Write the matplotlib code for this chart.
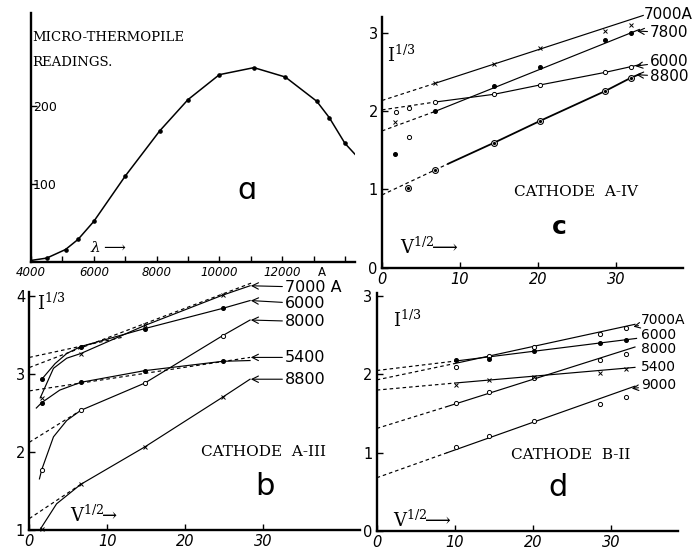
import matplotlib.pyplot as plt

W, H = 698, 550

# panel a : thermopile readings against wavelength
a_wave = [4500, 5100, 5500, 6000, 7000, 8100, 9000, 10000, 11100, 12100, 13100, 13500, 14000]
a_read = [5, 16, 29, 52, 110, 168, 208, 240, 249, 237, 206, 185, 152]
a_start = (4000, 2)
a_end = (14320, 138)

# panel b : cathode A-III  (I^1/3 against V^1/2)
b_v = [1.6, 6.6, 14.8, 24.8]
b_7000 = [2.69, 3.26, 3.62, 4.01]
b_6000 = [2.93, 3.35, 3.58, 3.84]
b_8000 = [1.77, 2.53, 2.88, 3.49]
b_5400 = [2.63, 2.89, 3.04, 3.16]
b_8800 = [1.01, 1.58, 2.06, 2.70]
# curves as drawn in the figure
b_7000_curve = [(1.4, 2.69), (3.1, 3.07), (4.8, 3.20), (6.6, 3.26), (14.8, 3.62), (24.8, 4.01), (28.3, 4.13)]
b_6000_curve = [(1.6, 2.93), (3.3, 3.13), (4.8, 3.26), (6.6, 3.35), (14.8, 3.58), (24.8, 3.84), (28.3, 3.94)]
b_8000_curve = [(1.3, 1.65), (1.6, 1.77), (3.1, 2.19), (4.8, 2.40), (6.6, 2.53), (14.8, 2.88), (24.8, 3.49), (28.3, 3.69)]
b_5400_curve = [(0.9, 2.56), (1.6, 2.63), (3.9, 2.79), (6.6, 2.89), (14.8, 3.04), (24.8, 3.16), (28.3, 3.17)]
b_8800_curve = [(1.45, 1.01), (3.5, 1.33), (6.6, 1.58), (14.8, 2.06), (24.8, 2.70), (28.3, 2.93)]
b_dashes = [[(0, 3.08), (28.6, 4.17)], [(0, 3.21), (12, 3.47)], [(0, 2.78), (28.3, 3.21)],
            [(0, 2.12), (6.6, 2.53)], [(0, 1.14), (6.6, 1.58)]]
b_labels = ["7000 A", "6000", "8000", "5400", "8800"]
b_label_y = [4.11, 3.90, 3.67, 3.21, 2.93]
b_tip_y = [4.13, 3.94, 3.69, 3.21, 2.93]

# panel c : cathode A-IV
c_v = [6.8, 14.4, 20.3, 28.6, 31.9]
c_7000 = [2.36, 2.61, 2.81, 3.03, 3.11]
c_7800 = [2.00, 2.33, 2.57, 2.91, 3.01]
c_6000 = [2.12, 2.22, 2.34, 2.50, 2.57]
c_8800 = [1.25, 1.60, 1.88, 2.26, 2.43]
c_low_v = [1.7, 3.5]
c_7000_low = [1.86]
c_7800_low = [1.46]
c_6000_low = [1.99, 2.05]
c_6000_odd = (3.5, 1.67)
c_8800_low = (3.3, 1.02)
c_7000_line = [(0, 2.14), (6.8, 2.36), (33.5, 3.23)]
c_7800_line = [(0, 1.75), (6.8, 2.00), (33.0, 3.05)]
c_6000_line = [(0, 2.02), (6.8, 2.12), (14.4, 2.22), (20.3, 2.34), (28.6, 2.50), (33.1, 2.60)]
c_8800_line = [(0, 0.93), (8.5, 1.33), (14.4, 1.60), (20.3, 1.88), (28.6, 2.26), (31.9, 2.43), (33.1, 2.48)]

# panel d : cathode B-II
d_v = [10.1, 14.4, 20.1, 28.5, 31.9]
d_7000 = [2.09, 2.23, 2.35, 2.52, 2.59]
d_6000 = [2.18, 2.20, 2.30, 2.40, 2.44]
d_8000 = [1.64, 1.78, 1.95, 2.19, 2.26]
d_5400 = [1.87, 1.93, 1.97, 2.02, 2.07]
d_9000 = [1.07, 1.21, 1.40, 1.62, 1.71]
d_7000_line = [(0, 1.93), (10, 2.14), (33.0, 2.64)]
d_6000_line = [(0, 2.05), (10, 2.17), (33.2, 2.46)]
d_8000_line = [(0, 1.31), (9, 1.59), (33.0, 2.35)]
d_5400_line = [(0, 1.80), (10, 1.89), (33.0, 2.09)]
d_9000_line = [(0, 0.68), (9, 1.00), (33.0, 1.85)]

plt.rcParams['font.family'] = ['DejaVu Sans']
plt.rcParams['mathtext.fontset'] = 'dejavuserif'

fig = plt.figure(figsize=(W / 100, H / 100), dpi=100)
fig.patch.set_facecolor('white')

DASH = (0, (3, 2.5))
SERIF = 'DejaVu Serif'


def px_axes(l, t, r, b):
    return fig.add_axes([l / W, 1 - b / H, (r - l) / W, (b - t) / H])


def style(ax, size=10.5):
    for s in ['top', 'right']:
        ax.spines[s].set_visible(False)
    for s in ['left', 'bottom']:
        ax.spines[s].set_linewidth(1.7)
    ax.tick_params(direction='in', length=4, width=1, labelsize=size, pad=3)
    ax.set_facecolor('none')


def seg(ax, pts, dashed=False, lw=0.85):
    xs = [p[0] for p in pts]
    ys = [p[1] for p in pts]
    ax.plot(xs, ys, color='black', lw=lw, ls=DASH if dashed else '-', clip_on=False)


def marks(ax, x, y, kind):
    if kind == 'x':
        ax.plot(x, y, ls='none', marker='x', ms=3, mew=0.7, color='black', clip_on=False)
    elif kind == 'dot':
        ax.plot(x, y, ls='none', marker='o', ms=2.6, color='black', clip_on=False)
    elif kind == 'open':
        ax.plot(x, y, ls='none', marker='o', ms=3, mfc='white', mec='black', mew=0.7, clip_on=False)
    else:
        ax.plot(x, y, ls='none', marker='o', ms=4.2, mfc='white', mec='black', mew=0.8, clip_on=False)
        ax.plot(x, y, ls='none', marker='o', ms=1.3, color='black', clip_on=False)


def arrow_label(ax, text, tip, pos, size):
    ax.annotate(text, xy=tip, xytext=pos, fontsize=size, va='center', ha='left',
                arrowprops=dict(arrowstyle='->', lw=0.8, color='black', shrinkA=0, shrinkB=0),
                annotation_clip=False)


# ---------------- panel a
ax = px_axes(31, 13, 355, 262)
style(ax, 8.5)
ax.set_xlim(4000, 14320)
ax.set_ylim(0, 319)
ax.set_xticks(range(4000, 14001, 1000))
ax.set_xticklabels([str(v) if v % 2000 == 0 and v <= 12000 else '' for v in range(4000, 14001, 1000)],
                   style='italic')
ax.set_yticks([100, 200])
ax.set_yticklabels(['100', '200'], fontsize=9)
for lab in ax.get_yticklabels():
    lab.set_horizontalalignment('left')
ax.tick_params(axis='y', pad=-1.5)
ax.plot([a_start[0]] + a_wave + [a_end[0]], [a_start[1]] + a_read + [a_end[1]], color='black', lw=1.1)
ax.plot(a_wave, a_read, ls='none', marker='o', ms=2.3, color='black')
ax.text(4030, 288, 'MICRO-THERMOPILE', family=SERIF, fontsize=9.5, va='center', ha='left')
ax.text(4030, 256, 'READINGS.', family=SERIF, fontsize=9.5, va='center', ha='left')
ax.text(10880, 92, 'ɑ', fontsize=22, ha='center', va='center')
ax.text(5880, 18, r'$\lambda\longrightarrow$', fontsize=11, ha='left', va='center')
ax.text(13270, -13, 'A', fontsize=8.5, ha='center', va='center', clip_on=False)

# ---------------- panel b
ax = px_axes(29.3, 292, 360, 529.5)
style(ax)
ax.set_xlim(0, 42.4)
ax.set_ylim(1, 4.05)
ax.set_xticks([0, 10, 20, 30])
ax.set_xticklabels(['0', '10', '20', '30'], style='italic')
ax.set_yticks([1, 2, 3, 4])
for cv in [b_7000_curve, b_6000_curve, b_8000_curve, b_5400_curve, b_8800_curve]:
    seg(ax, cv)
for d in b_dashes:
    seg(ax, d, dashed=True)
marks(ax, b_v, b_7000, 'x')
marks(ax, b_v, b_6000, 'dot')
marks(ax, b_v, b_8000, 'open')
marks(ax, b_v, b_5400, 'dot')
marks(ax, b_v, b_8800, 'x')
for lab, yl, yt in zip(b_labels, b_label_y, b_tip_y):
    arrow_label(ax, lab, (28.4, yt), (32.8, yl), 11.5)
ax.text(1.0, 3.91, r'$\mathrm{I}^{1/3}$', fontsize=13, va='center', ha='left')
ax.text(30.0, 2.0, 'CATHODE  A-III', family=SERIF, fontsize=11, ha='center', va='center')
ax.text(30.2, 1.55, 'b', fontsize=22, ha='center', va='center')
ax.text(5.2, 1.19, r'$\mathrm{V}^{1/2}\!\!\rightarrow$', fontsize=13, ha='left', va='center')

# ---------------- panel c
ax = px_axes(382, 17, 683, 267.5)
style(ax)
ax.set_xlim(0, 38.6)
ax.set_ylim(0, 3.21)
ax.set_xticks([0, 10, 20, 30])
ax.set_xticklabels(['0', '10', '20', '30'], style='italic')
ax.set_yticks([0, 1, 2, 3])
for line in [c_7000_line, c_7800_line, c_6000_line]:
    seg(ax, line[:2], dashed=True)
    seg(ax, line[1:])
seg(ax, c_8800_line[:2], dashed=True)
seg(ax, c_8800_line[1:], lw=1.3)
marks(ax, c_v, c_7000, 'x')
marks(ax, c_v, c_7800, 'dot')
marks(ax, c_v, c_6000, 'open')
marks(ax, c_v, c_8800, 'odot')
marks(ax, c_low_v[:1], c_7000_low, 'x')
marks(ax, c_low_v[:1], c_7800_low, 'dot')
marks(ax, [1.8, 3.5], c_6000_low, 'open')
marks(ax, [c_6000_odd[0]], [c_6000_odd[1]], 'open')
marks(ax, [c_8800_low[0]], [c_8800_low[1]], 'odot')
ax.text(33.6, 3.24, '7000A', fontsize=11, ha='left', va='center', clip_on=False)
c_arrows = [('7800', 3.01, (32.7, 3.03)), ('6000', 2.64, (32.5, 2.58)), ('8800', 2.45, (32.6, 2.47))]
for lab, yl, tip in c_arrows:
    arrow_label(ax, lab, tip, (34.4, yl), 11)
ax.text(0.64, 2.72, r'$\mathrm{I}^{1/3}$', fontsize=13, va='center', ha='left')
ax.text(24.9, 0.97, 'CATHODE  A-IV', family=SERIF, fontsize=11, ha='center', va='center')
ax.text(22.7, 0.52, 'c', fontsize=18, ha='center', va='center', fontweight='bold')
ax.text(2.3, 0.26, r'$\mathrm{V}^{1/2}\!\!\longrightarrow$', fontsize=13, ha='left', va='center')

# ---------------- panel d
ax = px_axes(376.7, 293, 678, 531)
style(ax)
ax.set_xlim(0, 38.5)
ax.set_ylim(0, 3.04)
ax.set_xticks([0, 10, 20, 30])
ax.set_xticklabels(['0', '10', '20', '30'], style='italic')
ax.set_yticks([0, 1, 2, 3])
for line in [d_7000_line, d_6000_line, d_8000_line, d_5400_line, d_9000_line]:
    seg(ax, line[:2], dashed=True)
    seg(ax, line[1:])
marks(ax, d_v, d_7000, 'open')
marks(ax, d_v, d_6000, 'dot')
marks(ax, d_v, d_8000, 'open')
marks(ax, d_v, d_5400, 'x')
marks(ax, d_v, d_9000, 'open')
arrow_label(ax, '7000A', (32.8, 2.61), (33.8, 2.69), 10)
ax.text(33.8, 2.50, '6000', fontsize=10, va='center', ha='left', clip_on=False)
ax.text(33.8, 2.32, '8000', fontsize=10, va='center', ha='left', clip_on=False)
ax.text(33.8, 2.10, '5400', fontsize=10, va='center', ha='left', clip_on=False)
arrow_label(ax, '9000', (32.6, 1.82), (33.8, 1.86), 10)
ax.text(2.1, 2.69, r'$\mathrm{I}^{1/3}$', fontsize=13, va='center', ha='left')
ax.text(24.8, 0.97, 'CATHODE  B-II', family=SERIF, fontsize=11, ha='center', va='center')
ax.text(23.2, 0.55, 'd', fontsize=22, ha='center', va='center')
ax.text(2.1, 0.14, r'$\mathrm{V}^{1/2}\!\!\longrightarrow$', fontsize=13, ha='left', va='center')

fig.savefig('out.png', dpi=100, facecolor='white')
